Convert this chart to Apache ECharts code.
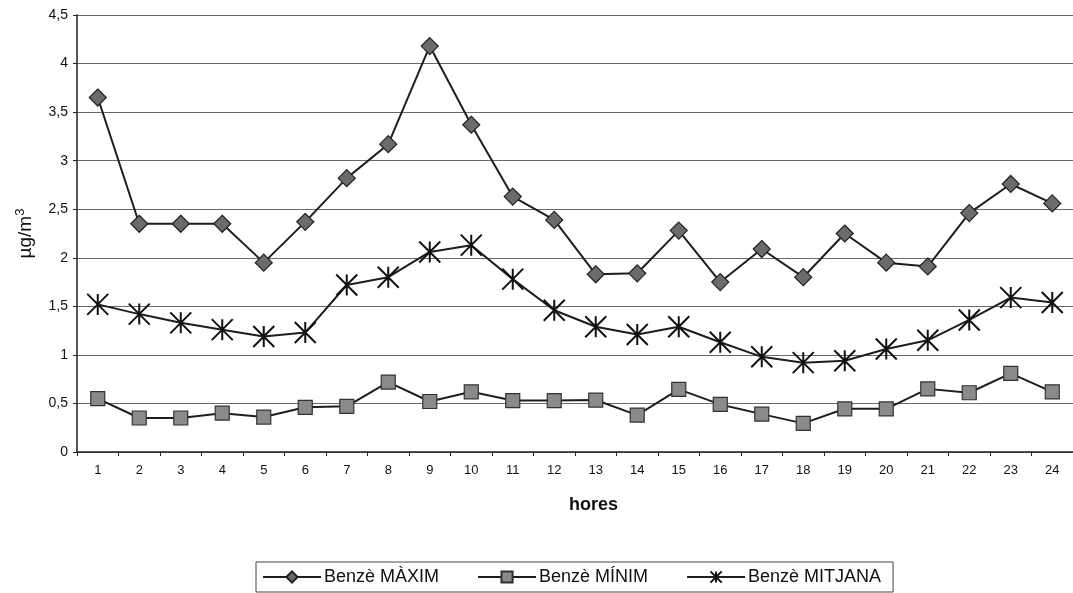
<!DOCTYPE html>
<html>
<head>
<meta charset="utf-8">
<script src="https://cdn.jsdelivr.net/npm/echarts@6/dist/echarts.min.js"></script>
<style>
  html, body { margin: 0; padding: 0; background: #fff; }
  #chart { width: 1073px; height: 593px; }
</style>
</head>
<body>
<div id="chart"></div>
<script>
// Hourly benzene concentrations (µg/m3)
const hours = ['1','2','3','4','5','6','7','8','9','10','11','12','13','14','15','16','17','18','19','20','21','22','23','24'];
const benzeMaxim = [3.65, 2.35, 2.35, 2.35, 1.95, 2.37, 2.82, 3.17, 4.18, 3.37, 2.63, 2.39, 1.83, 1.84, 2.28, 1.75, 2.09, 1.80, 2.25, 1.95, 1.91, 2.46, 2.76, 2.56];
const benzeMinim = [0.55, 0.35, 0.35, 0.40, 0.36, 0.46, 0.47, 0.72, 0.52, 0.62, 0.53, 0.53, 0.535, 0.38, 0.645, 0.49, 0.39, 0.295, 0.445, 0.445, 0.65, 0.61, 0.81, 0.62];
const benzeMitjana = [1.52, 1.42, 1.33, 1.26, 1.19, 1.23, 1.72, 1.80, 2.06, 2.13, 1.78, 1.46, 1.29, 1.21, 1.29, 1.13, 0.98, 0.92, 0.94, 1.06, 1.15, 1.36, 1.59, 1.54];
const seriesNames = ['Benzè MÀXIM', 'Benzè MÍNIM', 'Benzè MITJANA'];

// Asterisk marker: X with a vertical stroke
const asterisk = 'path://M0 0 L20 20 M20 0 L0 20 M10 0 L10 20';
const font = 'Liberation Sans, Arial, sans-serif';
const ink = '#1e1e1e';

const chart = echarts.init(document.getElementById('chart'));
chart.setOption({
  animation: false,
  backgroundColor: '#fff',
  textStyle: { fontFamily: font, color: '#111' },
  grid: { left: 77, right: -8, top: 15, bottom: 141, containLabel: false },
  xAxis: {
    type: 'category',
    data: hours,
    boundaryGap: true,
    axisLine: { lineStyle: { color: '#222', width: 1.5 } },
    axisTick: { show: true, length: 4, lineStyle: { color: '#222' } },
    axisLabel: { fontSize: 13, color: '#111', margin: 12, fontFamily: font },
    splitLine: { show: false }
  },
  yAxis: {
    type: 'value',
    min: 0,
    max: 4.5,
    interval: 0.5,
    name: 'µg/m{sup|3}',
    nameLocation: 'middle',
    nameGap: 40,
    nameRotate: 90,
    nameTextStyle: {
      fontSize: 19, color: '#111', fontFamily: font,
      rich: { sup: { fontSize: 13, verticalAlign: 'top', padding: [0, 0, 10, 0], fontFamily: font } }
    },
    axisLine: { show: true, lineStyle: { color: '#222', width: 1.5 } },
    axisTick: { show: true, length: 4, lineStyle: { color: '#222' } },
    axisLabel: {
      fontSize: 14, color: '#111', margin: 9, fontFamily: font,
      formatter: v => String(v).replace('.', ',')
    },
    splitLine: { show: true, lineStyle: { color: '#6a6a6a', width: 1 } }
  },
  legend: {
    data: seriesNames,
    left: 256,
    top: 562,
    padding: [6, 12, 6, 6],
    itemGap: 38,
    itemWidth: 58,
    itemHeight: 14,
    borderColor: '#444',
    borderWidth: 1,
    textStyle: { fontSize: 18, color: '#111', fontFamily: font, padding: [0, 0, 0, -2] }
  },
  graphic: [{
    type: 'text',
    left: 569,
    top: 496,
    style: { text: 'hores', font: 'bold 18px ' + font, fill: '#111' }
  }],
  series: [
    {
      name: seriesNames[0],
      type: 'line',
      data: benzeMaxim,
      symbol: 'diamond',
      symbolSize: 17,
      lineStyle: { color: ink, width: 2 },
      itemStyle: { color: '#6b6b6b', borderColor: '#222', borderWidth: 1.2 },
      z: 3
    },
    {
      name: seriesNames[1],
      type: 'line',
      data: benzeMinim,
      symbol: 'rect',
      symbolSize: 14,
      lineStyle: { color: ink, width: 2 },
      itemStyle: { color: '#8a8a8a', borderColor: '#333', borderWidth: 1.2 },
      z: 3
    },
    {
      name: seriesNames[2],
      type: 'line',
      data: benzeMitjana,
      symbol: asterisk,
      symbolSize: 21,
      lineStyle: { color: ink, width: 2 },
      itemStyle: { color: 'none', borderColor: '#111', borderWidth: 2 },
      z: 3
    }
  ]
});
</script>
</body>
</html>
